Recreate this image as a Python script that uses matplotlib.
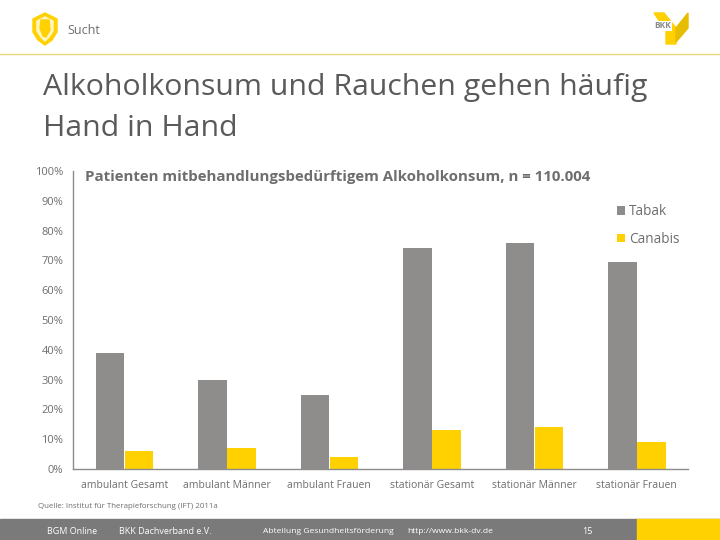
import numpy as np
from matplotlib import pyplot as plt
from matplotlib.patches import Polygon, Rectangle

plt.rcParams['font.family'] = ['Open Sans', 'DejaVu Sans']

kategorien = ["ambulant Gesamt", "ambulant Männer", "ambulant Frauen",
              "stationär Gesamt", "stationär Männer", "stationär Frauen"]
tabak = [39, 30, 25, 74, 76, 69.5]
canabis = [6, 7, 4, 13, 14, 9]
y_ticks = [0, 10, 20, 30, 40, 50, 60, 70, 80, 90, 100]

GRAU = "#8f8c8c"
GELB = "#ffd100"
TEXT = "#6e6e6e"

W, H = 720, 540
fig = plt.figure(figsize=(7.2, 5.4), dpi=100, facecolor="white")


def fx(px):
    return px / W


def fy(py):
    return 1 - py / H


# Diagramm
ax = fig.add_axes([fx(73), fy(469), fx(688 - 73), fy(171) - fy(469)])
xs = np.arange(len(kategorien))
breite = 0.28
ax.bar(xs - breite / 2, tabak, breite, color=GRAU, label="Tabak")
ax.bar(xs + breite / 2 + 0.005, canabis, breite, color=GELB, label="Canabis")
ax.set_xlim(-0.5, 5.5)
ax.set_ylim(0, 100)
ax.set_yticks(y_ticks)
ax.set_yticklabels([f"{t}%" for t in y_ticks], fontsize=8, color=TEXT)
ax.set_xticks(xs)
ax.set_xticklabels(kategorien, fontsize=7.5, color=TEXT)
ax.tick_params(axis="both", length=0)
ax.tick_params(axis="x", pad=8)
ax.tick_params(axis="y", pad=7)
for s in ["top", "right"]:
    ax.spines[s].set_visible(False)
for s in ["left", "bottom"]:
    ax.spines[s].set_color("#8c8c8c")
    ax.spines[s].set_linewidth(1)

ax.legend(loc="upper left", bbox_to_anchor=(fx(617), fy(204)), bbox_transform=fig.transFigure,
          frameon=False, fontsize=9.8, labelcolor=TEXT, handlelength=0.6, handleheight=0.6,
          handletextpad=0.3, labelspacing=0.95, borderpad=0, borderaxespad=0)

# Texte
fig.text(fx(85), fy(177), "Patienten mitbehandlungsbedürftigem Alkoholkonsum, n = 110.004",
         fontsize=10.8, fontweight="bold", color=TEXT, va="center")
fig.text(fx(67), fy(30), "Sucht", fontsize=9, color=TEXT, va="center")
fig.text(fx(43), fy(88), "Alkoholkonsum und Rauchen gehen häufig", fontsize=21.8, color="#5a5a5a", va="center")
fig.text(fx(43), fy(129), "Hand in Hand", fontsize=21.8, color="#5a5a5a", va="center")
fig.text(fx(38), fy(507), "Quelle: Institut für Therapieforschung (IFT) 2011a", fontsize=5.7, color=TEXT, va="center")

# Kopflinie
fig.add_artist(plt.Line2D([0, 1], [fy(54), fy(54)], color="#ecd97a", lw=1))

# Schild
schild = [(33, 19), (45, 13), (57, 19), (57, 32), (52, 40), (45, 45), (38, 40), (33, 32)]
fig.add_artist(Polygon([(fx(a), fy(b)) for a, b in schild], closed=True, color=GELB, transform=fig.transFigure))
innen = [(37, 21), (45, 17), (53, 21), (53, 31), (49, 37), (45, 41), (41, 37), (37, 31)]
fig.add_artist(Polygon([(fx(a), fy(b)) for a, b in innen], closed=True, color="#fff6c4", transform=fig.transFigure))
hand = [(40, 28), (41, 20), (49, 20), (50, 30), (46, 37), (43, 36)]
fig.add_artist(Polygon([(fx(a), fy(b)) for a, b in hand], closed=True, color=GELB, transform=fig.transFigure))

# Logo
logo1 = [(654, 13), (664, 13), (676, 28), (676, 44), (666, 44), (666, 31)]
fig.add_artist(Polygon([(fx(a), fy(b)) for a, b in logo1], closed=True, color=GELB, transform=fig.transFigure))
logo2 = [(676, 28), (688, 13), (688, 28), (676, 42)]
fig.add_artist(Polygon([(fx(a), fy(b)) for a, b in logo2], closed=True, color="#e6bd00", transform=fig.transFigure))
fig.text(fx(654), fy(26), "BKK", fontsize=6, fontweight="bold", color="#8a8a8a", va="center",
         bbox=dict(facecolor="white", edgecolor="none", pad=0.5))

# Fusszeile
fig.add_artist(Rectangle((0, 0), 1, fy(519), color="#7a7a7a", transform=fig.transFigure))
fig.add_artist(Rectangle((fx(637), 0), fx(83), fy(519), color=GELB, transform=fig.transFigure))
fuss = [(47, "BGM Online", 6.5), (119, "BKK Dachverband e.V.", 6.5), (263, "Abteilung Gesundheitsförderung", 6.1),
        (407, "http://www.bkk-dv.de", 6.1), (582, "15", 6.5)]
for px, t, gr in fuss:
    fig.text(fx(px), 0.0185, t, fontsize=gr, color="white", va="center_baseline")

fig.savefig("out.png", dpi=100)
